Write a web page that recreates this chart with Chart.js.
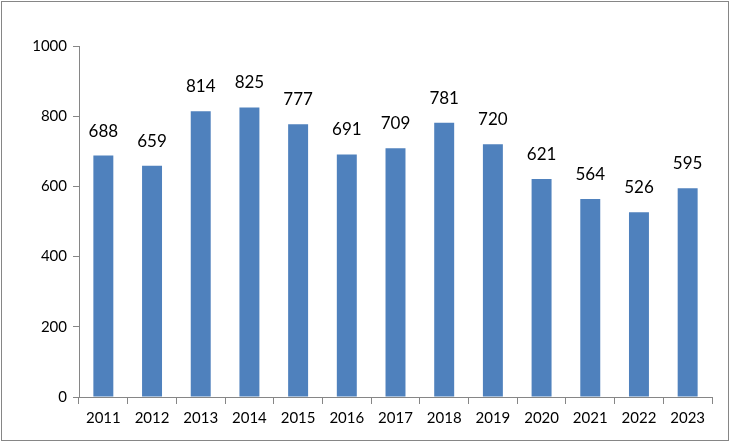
<!DOCTYPE html>
<html>
<head>
<meta charset="utf-8">
<script src="https://cdn.jsdelivr.net/npm/chart.js@4"></script>
<style>
  html, body { margin: 0; padding: 0; background: #fff; }
  #wrap { width: 730px; height: 443px; position: relative; }
</style>
</head>
<body>
<div id="wrap"><canvas id="chart" width="730" height="443"></canvas></div>
<script>
// data for the chart
const years = ["2011", "2012", "2013", "2014", "2015", "2016", "2017", "2018", "2019", "2020", "2021", "2022", "2023"];
const counts = [688, 659, 814, 825, 777, 691, 709, 781, 720, 621, 564, 526, 595];
const yTicks = [0, 200, 400, 600, 800, 1000];

const FONT = "Lato, 'Open Sans', sans-serif";
const AXIS_GREY = "#868686";

// ---- value labels above bars ----
const valueLabels = {
  id: "valueLabels",
  afterDatasetsDraw(chart) {
    const ctx = chart.ctx;
    const meta = chart.getDatasetMeta(0);
    ctx.save();
    ctx.font = "17px " + FONT;
    ctx.fillStyle = "#000";
    ctx.textAlign = "center";
    ctx.textBaseline = "alphabetic";
    meta.data.forEach((bar, i) => {
      ctx.fillText(String(counts[i]), bar.x, bar.y - 19);
    });
    ctx.restore();
  }
};

// ---- outer frame ----
const frame = {
  id: "frame",
  beforeDraw(chart) {
    const ctx = chart.ctx;
    ctx.save();
    ctx.fillStyle = "#fff";
    ctx.fillRect(0, 0, chart.width, chart.height);
    ctx.strokeStyle = AXIS_GREY;
    ctx.lineWidth = 1;
    ctx.strokeRect(1.5, 1.5, 727, 439);
    ctx.restore();
  }
};

new Chart(document.getElementById("chart"), {
  type: "bar",
  data: {
    labels: years,
    datasets: [{
      data: counts,
      backgroundColor: "#4F81BD",
      barPercentage: 0.41,
      categoryPercentage: 1
    }]
  },
  options: {
    responsive: false,
    animation: false,
    events: [],
    layout: { padding: { top: 46, right: 18, bottom: 14, left: 0 } },
    plugins: { legend: { display: false }, tooltip: { enabled: false } },
    scales: {
      x: {
        offset: true,
        grid: {
          offset: true,
          drawOnChartArea: false,
          drawTicks: true,
          tickLength: 7,
          color: AXIS_GREY
        },
        border: { color: AXIS_GREY, width: 1 },
        ticks: { color: "#000", font: { family: FONT, size: 15 }, padding: 5, maxRotation: 0 },
        afterFit: s => { s.height = 32; }
      },
      y: {
        min: 0,
        max: 1000,
        afterBuildTicks: s => { s.ticks = yTicks.map(v => ({ value: v })); },
        grid: {
          drawOnChartArea: false,
          drawTicks: true,
          tickLength: 6,
          color: AXIS_GREY
        },
        border: { color: AXIS_GREY, width: 1 },
        ticks: {
          color: "#000",
          font: { family: FONT, size: 15 },
          padding: 6,
          callback: v => String(v)
        },
        afterFit: s => { s.width = 79; }
      }
    }
  },
  plugins: [frame, valueLabels]
});
</script>
</body>
</html>
